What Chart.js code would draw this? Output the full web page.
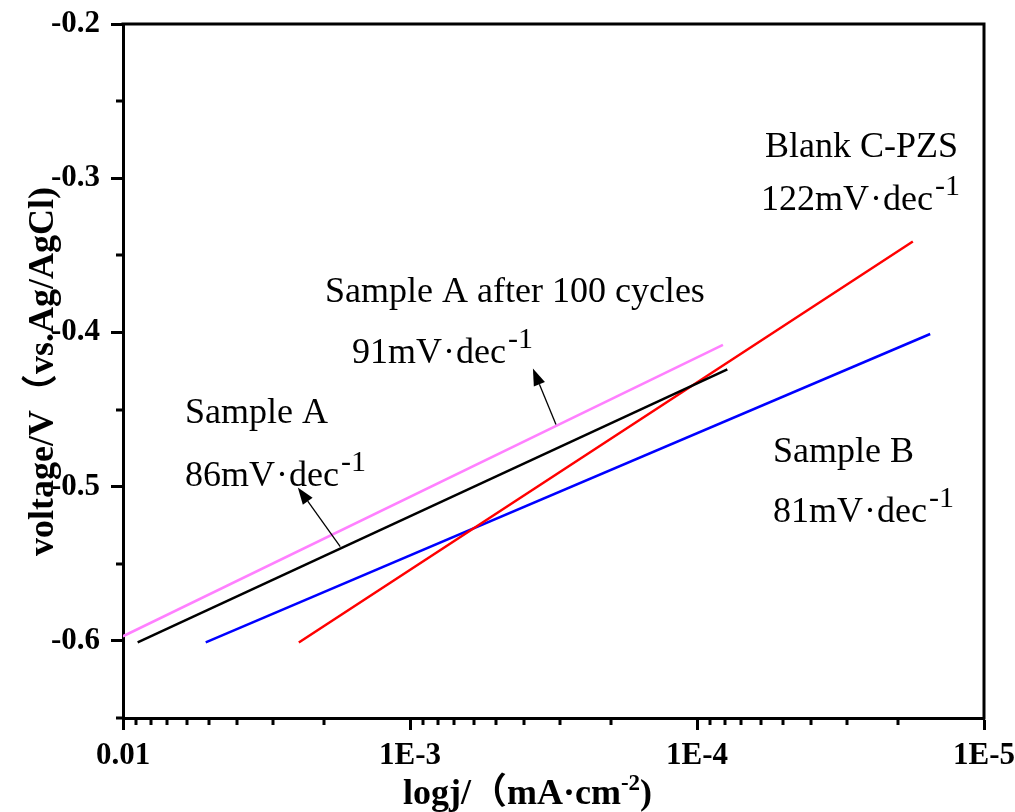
<!DOCTYPE html>
<html lang="en">
<head>
<meta charset="UTF-8">
<title>Tafel plot</title>
<script src="https://cdn.jsdelivr.net/npm/chart.js"></script>
<style>
  html, body { margin: 0; padding: 0; background: #fff; }
  #wrap { width: 1015px; height: 812px; }
</style>
</head>
<body>
<div id="wrap"><canvas id="tafel" width="1015" height="812"></canvas></div>
<script>
// ends of each fitted Tafel line: current density (mA/cm2), potential (V)
const cycledX = [0.01, 8.12e-5];
const cycledY = [-0.597, -0.408];
const sampleAX = [8.89e-3, 7.84e-5];
const sampleAY = [-0.601, -0.424];
const blankX = [2.44e-3, 1.77e-5];
const blankY = [-0.601, -0.341];
const sampleBX = [5.15e-3, 1.54e-5];
const sampleBY = [-0.601, -0.401];

const seriesNames = ['Sample A after 100 cycles', 'Sample A', 'Blank C-PZS', 'Sample B'];
const slopes = ['91', '86', '122', '81'];

const xTicks = [0.01, 1e-3, 1e-4, 1e-5];
const xTickLabels = ['0.01', '1E-3', '1E-4', '1E-5'];
const xMinorDecades = [1e-3, 1e-4, 1e-5];
const xMinorSteps = [2, 3, 4, 5, 6, 7, 8, 9];
const yTicks = [-0.6, -0.5, -0.4, -0.3, -0.2];
const yTickLabels = ['-0.6', '-0.5', '-0.4', '-0.3', '-0.2'];
const yMinor = [-0.65, -0.55, -0.45, -0.35, -0.25];

// arrows pointing from a line to its slope label (data coords)
const arrowFrom = [[3.10e-4, -0.4597], [1.75e-3, -0.5388]];
const arrowTo = [[3.73e-4, -0.4234], [2.46e-3, -0.5005]];

// where the labels sit on the canvas, same order as seriesNames
const notePos = [
  { nx: 325, ny: 302, sx: 352, sy: 363 },
  { nx: 185, ny: 423, sx: 185, sy: 486 },
  { nx: 765, ny: 157, sx: 761, sy: 210 },
  { nx: 773, ny: 462, sx: 773, sy: 522 }
];

const SERIF = '"Liberation Serif", "Times New Roman", serif';
const CJK = '"Noto Sans CJK SC", sans-serif';

const pts = (xs, ys) => xs.map((x, i) => ({ x: x, y: ys[i] }));

function drawRuns(ctx, runs, x, y) {
  runs.forEach(r => {
    ctx.font = r.font;
    x += r.gap || 0;
    ctx.fillText(r.text, x, y - (r.rise || 0));
    x += ctx.measureText(r.text).width;
  });
  return x;
}

const extras = {
  id: 'extras',
  afterDraw(chart) {
    const ctx = chart.ctx;
    const a = chart.chartArea;
    const xs = chart.scales.x, ys = chart.scales.y;
    ctx.save();
    ctx.strokeStyle = '#000';
    ctx.fillStyle = '#000';

    // top and right frame
    ctx.lineWidth = 3;
    ctx.beginPath();
    ctx.moveTo(a.left - 1.5, a.top);
    ctx.lineTo(a.right, a.top);
    ctx.lineTo(a.right, a.bottom + 1.5);
    ctx.stroke();

    // minor ticks
    ctx.lineWidth = 3;
    ctx.beginPath();
    yMinor.forEach(v => {
      const py = Math.round(ys.getPixelForValue(v));
      ctx.moveTo(a.left - 7, py);
      ctx.lineTo(a.left, py);
    });
    xMinorDecades.forEach(d => {
      xMinorSteps.forEach(m => {
        const px = Math.round(xs.getPixelForValue(m * d));
        ctx.moveTo(px, a.bottom);
        ctx.lineTo(px, a.bottom + 7);
      });
    });
    ctx.stroke();

    // arrows
    ctx.lineWidth = 1.3;
    arrowFrom.forEach((f, i) => {
      const x1 = xs.getPixelForValue(f[0]), y1 = ys.getPixelForValue(f[1]);
      const x2 = xs.getPixelForValue(arrowTo[i][0]), y2 = ys.getPixelForValue(arrowTo[i][1]);
      const ang = Math.atan2(y2 - y1, x2 - x1);
      const hl = 17, hw = 6;
      const bx = x2 - hl * Math.cos(ang), by = y2 - hl * Math.sin(ang);
      ctx.beginPath();
      ctx.moveTo(x1, y1);
      ctx.lineTo(bx, by);
      ctx.stroke();
      ctx.beginPath();
      ctx.moveTo(x2, y2);
      ctx.lineTo(bx + hw * Math.sin(ang), by - hw * Math.cos(ang));
      ctx.lineTo(bx - hw * Math.sin(ang), by + hw * Math.cos(ang));
      ctx.closePath();
      ctx.fill();
    });

    // series labels and slopes
    ctx.textAlign = 'left';
    ctx.textBaseline = 'alphabetic';
    const reg = '36px ' + SERIF;
    seriesNames.forEach((name, i) => {
      const p = notePos[i];
      ctx.font = reg;
      ctx.fillText(name, p.nx, p.ny);
      drawRuns(ctx, [
        { text: slopes[i] + 'mV', font: reg },
        { text: '·', font: reg, gap: 1 },
        { text: 'dec', font: reg, gap: 1 },
        { text: '-1', font: '30px ' + SERIF, rise: 15, gap: 2 }
      ], p.sx, p.sy);
    });

    // axis titles
    const bold = 'bold 36px ' + SERIF;
    const cjk = 'bold 36px ' + CJK;
    drawRuns(ctx, [
      { text: 'logj/', font: bold },
      { text: '（', font: cjk },
      { text: 'mA·cm', font: bold },
      { text: '-2', font: 'bold 23px ' + SERIF, rise: 14 },
      { text: ')', font: bold }
    ], 403, 804);

    ctx.translate(53, 556);
    ctx.rotate(-Math.PI / 2);
    drawRuns(ctx, [
      { text: 'voltage/V', font: bold },
      { text: '（', font: cjk },
      { text: 'vs.Ag/AgCl)', font: bold }
    ], 0, 0);
    ctx.restore();
  }
};

const tickFont = { family: SERIF, weight: 'bold', size: 31 };

new Chart(document.getElementById('tafel'), {
  type: 'line',
  data: {
    datasets: [
      { label: seriesNames[0], data: pts(cycledX, cycledY), borderColor: '#ff80ff' },
      { label: seriesNames[1], data: pts(sampleAX, sampleAY), borderColor: '#000000' },
      { label: seriesNames[2], data: pts(blankX, blankY), borderColor: '#ff0000' },
      { label: seriesNames[3], data: pts(sampleBX, sampleBY), borderColor: '#0000ff' }
    ]
  },
  options: {
    responsive: false,
    animation: false,
    devicePixelRatio: 1,
    layout: { padding: { left: 0, top: 24, right: 31, bottom: 0 } },
    elements: {
      line: { borderWidth: 2.5, tension: 0 },
      point: { radius: 0, hoverRadius: 0 }
    },
    plugins: { legend: { display: false }, tooltip: { enabled: false } },
    scales: {
      x: {
        type: 'logarithmic',
        reverse: true,
        min: 1e-5,
        max: 0.01,
        afterBuildTicks: s => { s.ticks = xTicks.map(v => ({ value: v })); },
        afterFit: s => { s.height = 94; s.paddingLeft = 0; s.paddingRight = 0; },
        ticks: {
          callback: (v, i) => xTickLabels[i],
          font: tickFont,
          color: '#000',
          padding: 7,
          autoSkip: false,
          maxRotation: 0
        },
        grid: { drawOnChartArea: false, tickLength: 12, tickWidth: 3, tickColor: '#000' },
        border: { color: '#000', width: 3 }
      },
      y: {
        type: 'linear',
        min: -0.65,
        max: -0.2,
        afterBuildTicks: s => { s.ticks = yTicks.map(v => ({ value: v })); },
        afterFit: s => { s.width = 123; s.paddingTop = 0; s.paddingBottom = 0; },
        ticks: {
          callback: (v, i) => yTickLabels[i],
          font: tickFont,
          color: '#000',
          padding: 11
        },
        grid: { drawOnChartArea: false, tickLength: 12, tickWidth: 3, tickColor: '#000' },
        border: { color: '#000', width: 3 }
      }
    }
  },
  plugins: [extras]
});
</script>
</body>
</html>
